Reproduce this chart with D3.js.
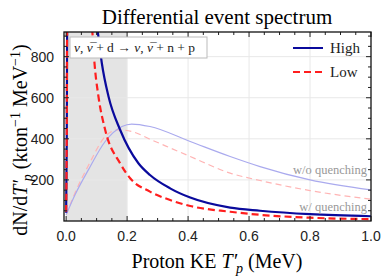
<!DOCTYPE html>
<html>
<head>
<meta charset="utf-8">
<style>
body { margin: 0; background: #fff; }
.serif { font-family: 'Liberation Serif', 'Times New Roman', 'DejaVu Serif', serif; }
.tick-label { font-family: 'Liberation Sans', Arial, sans-serif; font-size: 14px; fill: #222; }
</style>
</head>
<body>
<svg width="382" height="280"></svg>
<script src="https://cdnjs.cloudflare.com/ajax/libs/d3/7.8.5/d3.min.js"></script>
<script>
// quenched spectra (w/ quenching) - values above the frame get clipped
var highT = [0, 0.002, 0.004, 0.06, 0.09, 0.104, 0.117, 0.139, 0.177, 0.237, 0.275, 0.341, 0.407, 0.538, 0.636, 0.8, 1.0];
var highV = [40, 400, 1200, 1800, 1100, 920, 769, 606, 444, 281, 224, 159, 114, 65, 50, 33, 23];
var lowT = [0, 0.002, 0.004, 0.05, 0.08, 0.086, 0.093, 0.106, 0.128, 0.177, 0.21, 0.275, 0.341, 0.407, 0.538, 0.636, 0.8, 1.0];
var lowV = [45, 400, 1200, 1500, 1000, 920, 769, 606, 444, 281, 208, 143, 102, 73, 45, 30, 16, 9];
// unquenched spectra (w/o quenching)
var highNoQT = [0, 0.03, 0.073, 0.128, 0.183, 0.215, 0.275, 0.407, 0.538, 0.636, 0.8, 1.0];
var highNoQV = [30, 130, 249, 387, 460, 472, 460, 387, 314, 265, 200, 151];
var lowNoQT = [0, 0.03, 0.073, 0.128, 0.17, 0.215, 0.275, 0.407, 0.538, 0.636, 0.8, 1.0];
var lowNoQV = [30, 140, 270, 411, 444, 436, 398, 314, 233, 197, 148, 106];

var xTicks = [0, 0.2, 0.4, 0.6, 0.8, 1.0];
var yTicks = [200, 400, 600, 800];
var shadeRange = [0, 0.2];

var svg = d3.select("svg");
var x = d3.scaleLinear().domain([-0.007, 1.0]).range([64, 371]);
var y = d3.scaleLinear().domain([0, 920]).range([221, 32]);

function pts(T, V) { return T.map(function(t, i) { return [t, V[i]]; }); }

svg.append("defs").append("clipPath").attr("id", "clip")
  .append("rect").attr("x", x.range()[0]).attr("y", y.range()[1])
  .attr("width", x.range()[1] - x.range()[0]).attr("height", y.range()[0] - y.range()[1]);

// shaded threshold region
svg.append("rect")
  .attr("x", x(shadeRange[0])).attr("y", y.range()[1])
  .attr("width", x(shadeRange[1]) - x(shadeRange[0]))
  .attr("height", y.range()[0] - y.range()[1])
  .attr("fill", "#e4e4e4");

// grid
var grid = svg.append("g").attr("stroke", "#e8e8e8").attr("stroke-width", 1);
xTicks.slice(1, -1).forEach(function(t) {
  grid.append("line").attr("x1", x(t)).attr("x2", x(t)).attr("y1", y.range()[1]).attr("y2", y.range()[0]);
});
yTicks.forEach(function(v) {
  grid.append("line").attr("x1", x.range()[0]).attr("x2", x.range()[1]).attr("y1", y(v)).attr("y2", y(v));
});

var line = d3.line().x(function(d) { return x(d[0]); }).y(function(d) { return y(d[1]); })
  .curve(d3.curveMonotoneX);
var curves = svg.append("g").attr("clip-path", "url(#clip)");

curves.append("path").attr("d", line(pts(lowNoQT, lowNoQV)))
  .attr("fill", "none").attr("stroke", "#ffb4b4").attr("stroke-width", 1.2).attr("stroke-dasharray", "6,4");
curves.append("path").attr("d", line(pts(highNoQT, highNoQV)))
  .attr("fill", "none").attr("stroke", "#aaaaee").attr("stroke-width", 1.2);
curves.append("path").attr("d", line(pts(highT, highV)))
  .attr("fill", "none").attr("stroke", "#0a0a9c").attr("stroke-width", 2.2);
curves.append("path").attr("d", line(pts(lowT, lowV)))
  .attr("fill", "none").attr("stroke", "#ff1e1e").attr("stroke-width", 2.2).attr("stroke-dasharray", "7,4");

// frame ticks
var tk = svg.append("g").attr("stroke", "#222").attr("stroke-width", 1);
d3.range(0, 1.0001, 0.05).forEach(function(t) {
  var major = Math.abs(t * 5 - Math.round(t * 5)) < 1e-6;
  var len = major ? 5 : 3;
  tk.append("line").attr("x1", x(t)).attr("x2", x(t)).attr("y1", y.range()[0]).attr("y2", y.range()[0] - len);
  tk.append("line").attr("x1", x(t)).attr("x2", x(t)).attr("y1", y.range()[1]).attr("y2", y.range()[1] + len);
});
d3.range(50, 901, 50).forEach(function(v) {
  var len = v % 200 == 0 ? 5 : 3;
  tk.append("line").attr("x1", x.range()[0]).attr("x2", x.range()[0] + len).attr("y1", y(v)).attr("y2", y(v));
  tk.append("line").attr("x1", x.range()[1]).attr("x2", x.range()[1] - len).attr("y1", y(v)).attr("y2", y(v));
});

svg.append("rect")
  .attr("x", x.range()[0]).attr("y", y.range()[1])
  .attr("width", x.range()[1] - x.range()[0]).attr("height", y.range()[0] - y.range()[1])
  .attr("fill", "none").attr("stroke", "#111").attr("stroke-width", 1.3);

// tick labels
svg.selectAll(".xl").data(xTicks).enter().append("text")
  .attr("class", "tick-label").attr("x", function(d) { return x(d); }).attr("y", 241)
  .attr("text-anchor", "middle").text(function(d) { return d.toFixed(1); });
svg.selectAll(".yl").data(yTicks).enter().append("text")
  .attr("class", "tick-label").attr("x", 54).attr("y", function(d) { return y(d) + 5; })
  .attr("text-anchor", "end").text(function(d) { return d; });

// title
svg.append("text").attr("class", "serif").attr("x", 217).attr("y", 24)
  .attr("text-anchor", "middle").attr("font-size", 21).text("Differential event spectrum");

// x label
var xl = svg.append("text").attr("class", "serif").attr("x", 217).attr("y", 268)
  .attr("text-anchor", "middle").attr("font-size", 20);
xl.append("tspan").text("Proton KE ");
xl.append("tspan").attr("font-style", "italic").text("T\u2032");
xl.append("tspan").attr("dy", 5).attr("dx", -1).attr("font-size", 14).attr("font-style", "italic").text("p");
xl.append("tspan").attr("dy", -5).text(" (MeV)");

// y label
var yl = svg.append("text").attr("class", "serif")
  .attr("transform", "translate(27,140) rotate(-90)")
  .attr("text-anchor", "middle").attr("font-size", 20);
yl.append("tspan").text("dN/d");
yl.append("tspan").attr("font-style", "italic").text("T\u2032");
yl.append("tspan").attr("dy", 5).attr("dx", -1).attr("font-size", 14).attr("font-style", "italic").text("p");
yl.append("tspan").attr("dy", -5).text(" (kton");
yl.append("tspan").attr("dy", -7).attr("font-size", 14).text("\u22121");
yl.append("tspan").attr("dy", 7).text(" MeV");
yl.append("tspan").attr("dy", -7).attr("font-size", 14).text("\u22121");
yl.append("tspan").attr("dy", 7).text(")");

// reaction box
svg.append("rect").attr("x", 70).attr("y", 37).attr("width", 137).attr("height", 21)
  .attr("fill", "#fff").attr("stroke", "#bbb").attr("stroke-width", 1);
var rx = svg.append("text").attr("class", "serif").attr("x", 74).attr("y", 52).attr("font-size", 13.5).attr("fill", "#222");
rx.append("tspan").attr("font-style", "italic").text("\u03bd");
rx.append("tspan").text(", ");
rx.append("tspan").attr("font-style", "italic").text("\u03bd\u0305");
rx.append("tspan").text(" + d \u2192 ");
rx.append("tspan").attr("font-style", "italic").text("\u03bd");
rx.append("tspan").text(", ");
rx.append("tspan").attr("font-style", "italic").text("\u03bd\u0305");
rx.append("tspan").text("  + n + p");

// legend
var legend = [{name: "High", color: "#0a0a9c", dash: null, y: 48}, {name: "Low", color: "#ff1e1e", dash: "7,4", y: 72}];
legend.forEach(function(l) {
  svg.append("line").attr("x1", 293).attr("x2", 323).attr("y1", l.y).attr("y2", l.y)
    .attr("stroke", l.color).attr("stroke-width", 2).attr("stroke-dasharray", l.dash);
  svg.append("text").attr("class", "serif").attr("x", 330).attr("y", l.y + 5)
    .attr("font-size", 15).attr("fill", "#222").text(l.name);
});

// curve annotations
svg.append("text").attr("class", "serif").attr("x", 367).attr("y", 174).attr("text-anchor", "end")
  .attr("font-size", 12.5).attr("fill", "#999").text("w/o quenching");
svg.append("text").attr("class", "serif").attr("x", 367).attr("y", 211).attr("text-anchor", "end")
  .attr("font-size", 12.5).attr("fill", "#999").text("w/ quenching");
</script>
</body>
</html>
